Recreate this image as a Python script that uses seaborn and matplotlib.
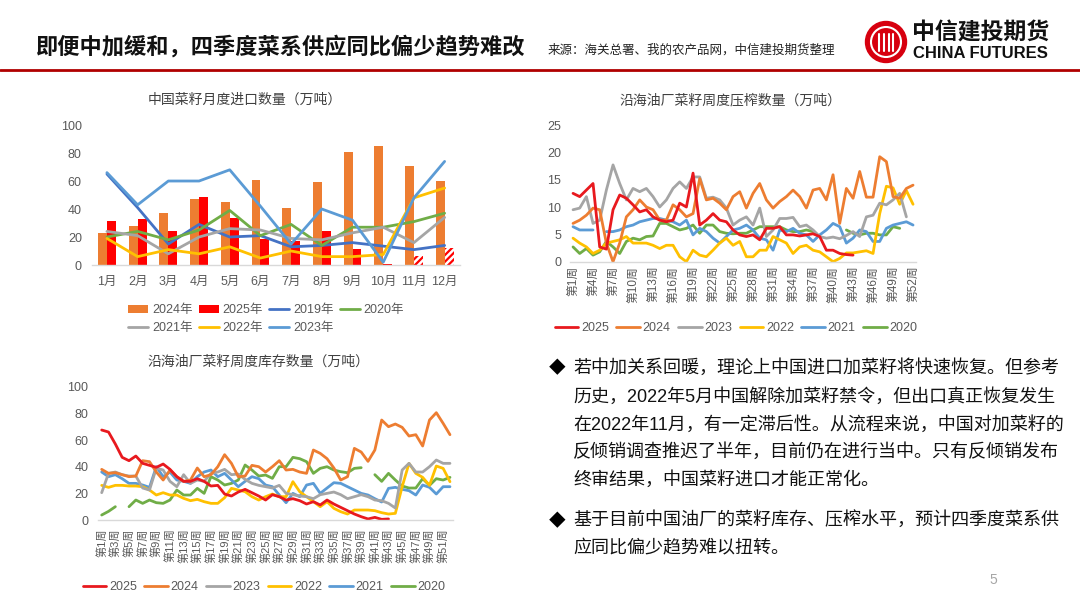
import numpy as np
import pandas as pd
import matplotlib
matplotlib.use("Agg")
import matplotlib.pyplot as plt
import seaborn as sns
from matplotlib.lines import Line2D
from matplotlib.patches import Patch, Ellipse

nan = np.nan

# ---- monthly imports (万吨) ----
months = ['1月', '2月', '3月', '4月', '5月', '6月', '7月', '8月', '9月', '10月', '11月', '12月']
imp_2024 = [22.6, 27.9, 37.4, 46.9, 45.2, 60.7, 40.5, 59.5, 81.0, 85.0, 71.0, 60.0]
imp_2025 = [31.7, 32.9, 24.3, 48.8, 33.3, 18.3, 17.1, 24.3, 11.2, 0.7, 6.7, 11.9]
est_2025 = [False] * 10 + [True, True]   # hatched months
imp_2019 = [65, 41, 15, 29, 20, 21, 13, 14, 16, 13.5, 11, 14]
imp_2020 = [20, 24, 18, 25, 39, 21, 29, 14, 27, 27, 31, 37]
imp_2021 = [24, 21, 8, 20, 26, 25, 19, 18, 23, 27, 16, 34]
imp_2022 = [19, 6, 11, 8, 13, 5, 10, 6, 6, 7.5, 48, 55]
imp_2023 = [66, 43, 60, 60, 68, 42, 15, 40, 32, 2, 48, 74]

# ---- weekly crush (万吨) ----
weeks = list(range(1, 53))
crush_2025 = [12.5, 11.9, 13.1, 14.3, 2.7, 2.3, 9.5, 12.2, 11.6, 10.4, 9.1, 9.5, 8.2, 7.6, 7.3, 7.6,
              10.7, 10.0, 16.2, 6.7, 7.6, 8.8, 7.6, 7.3, 5.8, 4.9, 4.6, 4.9, 4.0, 6.1, 6.1, 6.4,
              4.9, 4.9, 4.7, 4.9, 5.1, 4.6, 2.1, 2.1, 1.5, 1.3, 1.2] + [nan] * 9
crush_2024 = [7.0, 7.6, 8.5, 9.8, 9.5, 3.4, 0.0, 3.4, 8.2, 9.5, 11.3, 10.0, 9.5, 7.6, 7.6, 10.4,
              9.5, 8.2, 8.8, 15.2, 11.3, 11.6, 10.7, 9.5, 11.9, 12.8, 9.8, 12.5, 14.3, 11.3, 9.8, 11.0,
              11.9, 13.1, 11.9, 9.8, 13.1, 13.4, 11.3, 15.9, 7.0, 13.4, 11.6, 16.5, 11.8, 11.8, 19.2, 18.3,
              11.9, 11.6, 13.4, 14.0]
crush_2023 = [9.5, 9.8, 11.9, 7.0, 7.6, 13.1, 17.7, 14.3, 11.3, 13.4, 12.8, 13.4, 11.9, 10.0, 11.3, 13.4,
              14.6, 13.4, 15.5, 15.5, 11.6, 11.8, 11.3, 9.8, 6.7, 7.6, 8.2, 6.7, 9.8, 4.6, 5.8, 7.9,
              7.9, 8.1, 6.4, 6.7, 5.8, 4.6, 4.3, 4.5, 4.2, 4.8, 5.5, 4.6, 8.2, 8.5, 10.7, 10.4,
              11.3, 12.5, 8.2, nan]
crush_2022 = [4.3, 3.4, 2.7, 1.5, 2.1, 3.4, 3.7, 4.0, 4.6, 3.4, 3.4, 3.4, 3.0, 2.4, 3.0, 3.0,
              0.9, 0.0, 2.1, 1.2, 0.9, 2.1, 3.4, 4.3, 3.0, 3.7, 0.9, 0.9, 2.1, 2.1, 4.6, 4.0,
              3.4, 1.5, 2.7, 3.0, 2.1, 1.8, 0.9, 0.0, 0.6, 1.6, 1.6, 1.8, 2.0, 1.5, 8.8, 13.8,
              13.5, 10.5, 13.0, 10.5]
crush_2021 = [6.4, 5.8, 5.8, 5.8, nan, 5.5, 5.5, 5.8, 6.4, 6.7, 7.3, 7.6, 7.9, 7.9, 7.6, 7.3,
              6.7, 7.6, 4.9, 6.1, 5.5, 4.3, 3.4, 4.6, 5.8, 6.1, 6.7, 5.8, 4.3, 4.0, 2.1, 5.8,
              5.5, 6.1, 5.2, 4.9, 3.7, 4.9, 5.8, 7.0, 6.4, 3.4, 4.3, 5.8, 5.5, 3.7, 3.7, 6.1,
              6.7, 7.0, 7.3, 6.7]
crush_2020 = [2.7, 1.5, 2.4, 1.2, 1.8, 3.7, 2.7, 1.5, 3.7, 4.3, 4.0, 4.6, 4.7, 7.0, 7.0, 6.4,
              5.8, 6.1, 6.7, 5.2, 6.7, 6.7, 5.5, 5.2, 5.1, 5.2, 5.2, 5.8, 6.4, 6.4, 6.4, 6.4,
              5.8, 5.5, 5.5, 5.8, 5.5, nan, nan, nan, nan, 5.8, 5.2, 4.9, 5.2, 5.2, 4.9, 4.9,
              6.4, 6.1, nan, nan]

# ---- weekly inventory (万吨) ----
stock_2025 = [67.5, 66, 57, 47, 44.5, 48, 42.5, 41, 39.5, 42, 38, 32.5, 29, 29, 31, 29,
              25.5, 26, 19.5, 18, 21, 23, 20.5, 18, 15, 19, 17.5, 15, 16, 14.5, 12, 13.75,
              11.3, 15, 12, 9.5, 7, 4.5, 2.5, 0.8, 2, 0.5, 0.8] + [nan] * 9
stock_2024 = [38, 35, 35.5, 34, 32.5, 33, 44.5, 43.75, 36, 30, 37.5, 32.5, 29, 30, 39, 32.5,
              34, 40, 49, 42.5, 32.5, 33, 41, 40, 36, 40, 44.5, 37.5, 38, 36, 35, 52.5,
              50, 46, 39, 30, 32.5, 53.75, 51, 44, 52.5, 75, 70, 72, 69.5, 63, 64, 55.5,
              75, 80.5, 72.5, 64]
stock_2023 = [20.5, 35, 36, 34, 33, 33, 24, 22.5, 39, 37.5, 29, 25, 34, 27.5, 30, 29,
              35, 36, 38, 34, 34.5, 30.5, 27.5, 26, 25, 24, 26, 20, 19, 18, 17.5, 16,
              19, 20, 21, 19, 16, 17.5, 19, 17.5, 15, 14.5, 12.5, 9, 37.5, 42.5, 36, 36,
              40, 45, 42.5, 42.5]
stock_2022 = [26, 24.5, 26, 26, 25.5, 25.5, 25, 22.5, 18.75, 20.5, 18.75, 18.75, 16.25, 14.5, 15.5, 13.75,
              12.5, 12.5, 16.75, 23.75, 22.5, 21.25, 17.5, 15, 17.5, 19.5, 17.5, 17.5, 28.75, 21.25, 17.5, 13.75,
              10, 13.75, 8.75, 6.25, 4.5, 7.5, 7.5, 7.5, 7, 5.5, 4.5, 5, 25, 42.5, 35, 32,
              26, 40.5, 38.75, 28.75]
stock_2021 = [36, 32.5, 34, 31, 27.5, 27.5, 26.25, 24.5, 40, 32.5, 36, 30, 29, 27.5, 32.5, 36,
              37.5, 32.5, 35, 30, 25, 29, 32.5, 31, 26.25, 25, 18.75, 13, 20, 17.5, 26.25, 27.5,
              20, 24, 28, 27.5, 25, 22.5, 20, 18.75, 16, 13.5, 23.75, 24.5, 23, 22, 18.75, 26.25,
              24.5, 19.5, 25, 25]
stock_2020 = [3.75, 6.5, 10, nan, 10, 15, 12.5, 15, 13, 12.5, 15, 22.5, 18.75, 18.75, 23.75, 20,
              32.5, 30, 26.25, 27.5, 30, 41.25, 37.5, 33, 33.75, 31.25, 40, 40, 47, 46, 43.75, 35,
              38.75, 40, 37.5, 36.25, 35.5, 38.75, 39.25, nan, 34, 29, 35, 30, 25.5, 24, 24, 31,
              26, 31, 30, 32]

bullet_lines = [
    ("◆", "若中加关系回暖，理论上中国进口加菜籽将快速恢复。但参考"),
    ("", "历史，2022年5月中国解除加菜籽禁令，但出口真正恢复发生"),
    ("", "在2022年11月，有一定滞后性。从流程来说，中国对加菜籽的"),
    ("", "反倾销调查推迟了半年，目前仍在进行当中。只有反倾销发布"),
    ("", "终审结果，中国菜籽进口才能正常化。"),
    ("◆", "基于目前中国油厂的菜籽库存、压榨水平，预计四季度菜系供"),
    ("", "应同比偏少趋势难以扭转。"),
]

week_colors = {'2025': '#E8191E', '2024': '#ED7D31', '2023': '#A5A5A5',
               '2022': '#FFC000', '2021': '#5B9BD5', '2020': '#70AD47'}
month_colors = {'2019年': '#4472C4', '2020年': '#70AD47', '2021年': '#A5A5A5',
                '2022年': '#FFC000', '2023年': '#5B9BD5'}
bar_colors = {'2024年': '#ED7D31', '2025年': '#FF0000'}

sns.set_theme(style="white")
plt.rcParams['font.family'] = ['Liberation Sans', 'Noto Sans CJK SC', 'DejaVu Sans']
plt.rcParams['hatch.linewidth'] = 1.6
TICK = '#595959'


def weekly_long(series):
    rows = []
    for yr, vals in series.items():
        seg, gap = 0, True
        for w, v in zip(weeks, vals):
            if np.isnan(v):
                gap = True
                continue
            if gap:
                seg += 1
                gap = False
            rows.append((yr, w, v, f"{yr}-{seg}"))
    return pd.DataFrame(rows, columns=['year', 'week', 'value', 'seg'])


def style_axis(ax):
    for s in ['top', 'right', 'left']:
        ax.spines[s].set_visible(False)
    ax.spines['bottom'].set_color('#D9D9D9')
    ax.spines['bottom'].set_linewidth(1)
    ax.set_xlabel('')
    ax.set_ylabel('')
    ax.grid(False)


fig = plt.figure(figsize=(10.8, 6.08), dpi=100)

# ---------------- header ----------------
fig.text(35 / 1080, 1 - 47 / 608, "即便中加缓和，四季度菜系供应同比偏少趋势难改",
         fontsize=16, fontweight='bold', va='center', ha='left', color='#111111')
fig.text(548 / 1080, 1 - 50 / 608, "来源：海关总署、我的农产品网，中信建投期货整理",
         fontsize=9, va='center', ha='left', color='#222222')
fig.add_artist(Line2D([0, 1], [1 - 70 / 608] * 2, color='#B00000', lw=2, transform=fig.transFigure))
cx, cy = 886 / 1080, 1 - 42 / 608
fig.add_artist(Ellipse((cx, cy), 41 / 1080, 41 / 608, transform=fig.transFigure, color='#D7000F'))
fig.add_artist(Ellipse((cx, cy), 30 / 1080, 30 / 608, transform=fig.transFigure,
                       fill=False, edgecolor='white', lw=1.5))
for dx in (-7, -2.5, 2.5, 7):
    fig.add_artist(Line2D([cx + dx / 1080] * 2, [cy - 9 / 608, cy + 8 / 608],
                          color='white', lw=1.5, transform=fig.transFigure))
fig.text(912 / 1080, 1 - 33 / 608, "中信建投期货", fontsize=16.5, fontweight='bold',
         va='center', ha='left', color='#111111')
fig.text(913 / 1080, 1 - 53 / 608, "CHINA FUTURES", fontsize=12, fontweight='bold',
         va='center', ha='left', color='#111111')

# ---------------- monthly imports ----------------
ax1 = fig.add_axes([0.0848, 0.5641, 0.3411, 0.2303])
bar_df = pd.DataFrame({'month': months * 2, 'value': imp_2024 + imp_2025,
                       'year': ['2024年'] * 12 + ['2025年'] * 12})
sns.barplot(data=bar_df, x='month', y='value', hue='year', palette=bar_colors,
            width=0.58, gap=0, saturation=1, linewidth=0, legend=False, ax=ax1)
for patch, est in zip(ax1.containers[1].patches, est_2025):
    if est:
        patch.set_facecolor('white')
        patch.set_edgecolor('#FF0000')
        patch.set_hatch('/////')
        patch.set_linewidth(0)

line_df = pd.DataFrame({
    'pos': list(range(12)) * 5,
    'value': imp_2019 + imp_2020 + imp_2021 + imp_2022 + imp_2023,
    'year': sum([[y] * 12 for y in month_colors], []),
})
sns.lineplot(data=line_df, x='pos', y='value', hue='year', palette=month_colors,
             linewidth=2, legend=False, ax=ax1)
ax1.set_xlim(-0.5, 11.5)
ax1.set_ylim(0, 100)
ax1.set_yticks(range(0, 101, 20))
ax1.set_xticks(range(12))
ax1.set_xticklabels(months)
ax1.tick_params(axis='both', length=0, labelsize=9, colors=TICK)
ax1.tick_params(axis='y', pad=7)
ax1.tick_params(axis='x', pad=8)
style_axis(ax1)
fig.text(245 / 1080, 1 - 100 / 608, "中国菜籽月度进口数量（万吨）", fontsize=10,
         ha='center', va='center', color='#404040')

h = {y: Patch(facecolor=c, edgecolor='none') for y, c in bar_colors.items()}
h.update({y: Line2D([], [], color=c, lw=2) for y, c in month_colors.items()})
order = ['2024年', '2021年', '2025年', '2022年', '2019年', '2023年', '2020年']
fig.legend([h[k] for k in order], order, loc='center', bbox_to_anchor=(266 / 1080, 1 - 319 / 608),
           ncol=4, frameon=False, fontsize=9, labelcolor=TICK, handlelength=1.6,
           handleheight=0.6, handletextpad=0.3, columnspacing=0.5, borderpad=0, labelspacing=0.45)

# ---------------- weekly crush ----------------
ax2 = fig.add_axes([0.5275, 0.5696, 0.3210, 0.2248])
crush = {'2025': crush_2025, '2024': crush_2024, '2023': crush_2023,
         '2022': crush_2022, '2021': crush_2021, '2020': crush_2020}
crush_df = weekly_long(crush)
sns.lineplot(data=crush_df, x='week', y='value', hue='year', units='seg', estimator=None,
             hue_order=list(crush)[::-1], palette=week_colors, linewidth=2, legend=False, ax=ax2)
ax2.set_xlim(0.5, 52.5)
ax2.set_ylim(0, 25)
ax2.set_yticks(range(0, 26, 5))
ax2.set_xticks(weeks[::3])
ax2.set_xticklabels([f"第{w}周" for w in weeks[::3]], rotation=90)
ax2.tick_params(axis='both', length=0, colors=TICK)
ax2.tick_params(axis='y', labelsize=9, pad=6)
ax2.tick_params(axis='x', labelsize=8.5, pad=3)
style_axis(ax2)
fig.text(730 / 1080, 1 - 100 / 608, "沿海油厂菜籽周度压榨数量（万吨）", fontsize=10,
         ha='center', va='center', color='#404040')

wk_handles = [Line2D([], [], color=c, lw=2) for c in week_colors.values()]
fig.legend(wk_handles, list(week_colors), loc='center', bbox_to_anchor=(736 / 1080, 1 - 328 / 608),
           ncol=6, frameon=False, fontsize=9, labelcolor=TICK, handlelength=1.9,
           handletextpad=0.2, columnspacing=0.6, borderpad=0)

# ---------------- weekly inventory ----------------
ax3 = fig.add_axes([0.0910, 0.1447, 0.3288, 0.2193])
stock = {'2025': stock_2025, '2024': stock_2024, '2023': stock_2023,
         '2022': stock_2022, '2021': stock_2021, '2020': stock_2020}
stock_df = weekly_long(stock)
sns.lineplot(data=stock_df, x='week', y='value', hue='year', units='seg', estimator=None,
             hue_order=list(stock)[::-1], palette=week_colors, linewidth=2, legend=False, ax=ax3)
ax3.set_xlim(0.5, 52.5)
ax3.set_ylim(0, 100)
ax3.set_yticks(range(0, 101, 20))
ax3.set_xticks(weeks[::2])
ax3.set_xticklabels([f"第{w}周" for w in weeks[::2]], rotation=90)
ax3.tick_params(axis='both', length=0, colors=TICK)
ax3.tick_params(axis='y', labelsize=9, pad=7)
ax3.tick_params(axis='x', labelsize=8, pad=6)
style_axis(ax3)
fig.text(258 / 1080, 1 - 362 / 608, "沿海油厂菜籽周度库存数量（万吨）", fontsize=10,
         ha='center', va='center', color='#404040')
fig.legend(wk_handles, list(week_colors), loc='center', bbox_to_anchor=(264 / 1080, 1 - 587 / 608),
           ncol=6, frameon=False, fontsize=9, labelcolor=TICK, handlelength=1.9,
           handletextpad=0.2, columnspacing=0.6, borderpad=0)

# ---------------- commentary ----------------
line_y = [368, 397, 425, 452, 480, 521, 549]
for (bullet, txt), y in zip(bullet_lines, line_y):
    if bullet:
        fig.text(557 / 1080, 1 - y / 608, bullet, fontsize=12, ha='center', va='center', color='black')
    fig.text(573 / 1080, 1 - y / 608, txt, fontsize=13, ha='left', va='center', color='#111111')
fig.text(993 / 1080, 1 - 580 / 608, "5", fontsize=10, ha='center', va='center', color='#A6A6A6')

fig.savefig("out.png", dpi=100)
